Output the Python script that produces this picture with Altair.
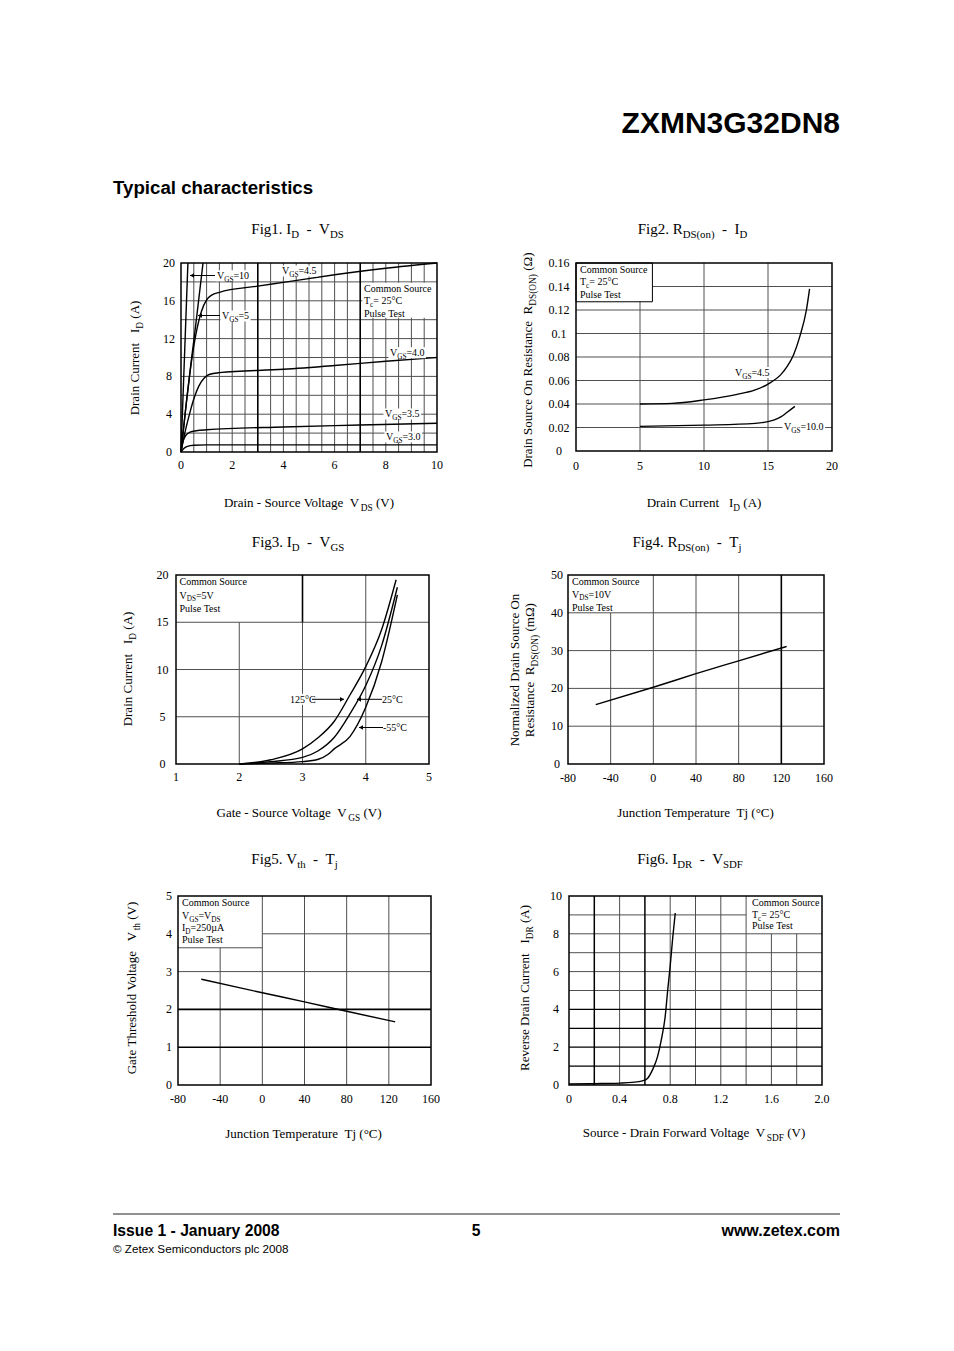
import altair as alt
import pandas as pd

# ===================== DATA =====================
# Fig1  I_D - V_DS
F1_X_TICKS = [0, 2, 4, 6, 8, 10]
F1_Y_TICKS = [0, 4, 8, 12, 16, 20]
F1_VGS10_VDS = [0, 0.14, 0.27]
F1_VGS10_ID = [0, 10.4, 20]
F1_VGS5_VDS = [0, 0.2, 0.4, 0.6, 0.86]
F1_VGS5_ID = [0, 5.0, 9.6, 14.0, 20]
F1_VGS45_VDS = [0, 0.2, 0.4, 0.6, 0.8, 1.0, 1.2, 1.5, 3, 4, 6, 8, 10]
F1_VGS45_ID = [0, 5.0, 9.4, 12.7, 14.9, 16.1, 16.6, 16.9, 17.55, 17.95, 18.75, 19.45, 20]
F1_VGS40_VDS = [0, 0.1, 0.2, 0.35, 0.5, 0.7, 0.9, 1.1, 1.5, 4, 6, 8, 10]
F1_VGS40_ID = [0, 1.4, 2.6, 4.2, 5.6, 7.0, 7.8, 8.2, 8.4, 8.75, 9.15, 9.6, 10.0]
F1_VGS35_VDS = [0, 0.05, 0.1, 0.2, 0.35, 0.6, 1, 4, 7, 10]
F1_VGS35_ID = [0, 0.8, 1.3, 1.8, 2.1, 2.25, 2.35, 2.65, 2.85, 3.05]
F1_VGS30_VDS = [0, 0.1, 0.25, 0.5, 1, 10]
F1_VGS30_ID = [0, 0.35, 0.6, 0.72, 0.75, 0.75]

# Fig2  R_DS(on) - I_D
F2_X_TICKS = [0, 5, 10, 15, 20]
F2_Y_TICKS = [0, 0.02, 0.04, 0.06, 0.08, 0.1, 0.12, 0.14, 0.16]
F2_Y_LABELS = ["0", "0.02", "0.04", "0.06", "0.08", "0.1", "0.12", "0.14", "0.16"]
F2_VGS45_ID = [5, 7.5, 10, 12.5, 14, 15, 16, 16.5, 17, 17.5, 18, 18.25]
F2_VGS45_R = [0.040, 0.0405, 0.0435, 0.048, 0.052, 0.057, 0.065, 0.072, 0.082, 0.098, 0.12, 0.138]
F2_VGS10_ID = [5, 10, 14, 15, 15.5, 16, 16.5, 17.1]
F2_VGS10_R = [0.021, 0.022, 0.0235, 0.025, 0.0265, 0.029, 0.033, 0.038]

# Fig3  I_D - V_GS
F3_X_TICKS = [1, 2, 3, 4, 5]
F3_Y_TICKS = [0, 5, 10, 15, 20]
F3_T125_VGS = [2.0, 2.5, 3.0, 3.25, 3.5, 3.75, 4.0, 4.25, 4.48]
F3_T125_ID = [0, 0.45, 1.6, 2.8, 4.5, 7.3, 10.3, 14.2, 19.5]
F3_T25_VGS = [2.0, 2.5, 3.0, 3.25, 3.5, 3.75, 4.0, 4.25, 4.5]
F3_T25_ID = [0, 0.25, 0.7, 1.4, 2.8, 5.3, 8.3, 12.5, 18.7]
F3_TM55_VGS = [2.0, 2.5, 3.0, 3.25, 3.4, 3.5, 3.75, 4.0, 4.25, 4.5]
F3_TM55_ID = [0, 0.1, 0.25, 0.5, 1.0, 1.6, 2.9, 6.0, 10.8, 17.9]

# Fig4  R_DS(on) - Tj
F4_X_TICKS = [-80, -40, 0, 40, 80, 120, 160]
F4_Y_TICKS = [0, 10, 20, 30, 40, 50]
F4_TJ = [-54, 0, 40, 80, 125]
F4_RDS = [15.7, 20.3, 23.9, 27.3, 31.1]

# Fig5  V_th - Tj
F5_X_TICKS = [-80, -40, 0, 40, 80, 120, 160]
F5_Y_TICKS = [0, 1, 2, 3, 4, 5]
F5_TJ = [-58, 0, 40, 80, 126]
F5_VTH = [2.80, 2.44, 2.20, 1.95, 1.67]

# Fig6  I_DR - V_SDF
F6_X_TICKS = [0, 0.4, 0.8, 1.2, 1.6, 2.0]
F6_X_LABELS = ["0", "0.4", "0.8", "1.2", "1.6", "2.0"]
F6_Y_TICKS = [0, 2, 4, 6, 8, 10]
F6_VSD = [0, 0.2, 0.4, 0.5, 0.58, 0.62, 0.66, 0.70, 0.73, 0.76, 0.78, 0.80, 0.82, 0.84]
F6_IDR = [0.05, 0.07, 0.10, 0.14, 0.22, 0.35, 0.8, 1.5, 2.4, 3.6, 5.0, 6.3, 7.8, 9.1]

# ===================== LAYOUT / STYLE =====================
OFF = 8  # page margin
SERIF = "Liberation Serif"
SANS = "Liberation Sans"
GRID = "#505050"

G1 = dict(L=181, R=437, T=263, B=452, xdom=[0, 10], ydom=[0, 20])
G2 = dict(L=576, R=832, T=263, B=451, xdom=[0, 20], ydom=[0, 0.16])
G3 = dict(L=176, R=429, T=575, B=764, xdom=[1, 5], ydom=[0, 20])
G4 = dict(L=568, R=824, T=575, B=764, xdom=[-80, 160], ydom=[0, 50])
G5 = dict(L=178, R=431, T=896, B=1085, xdom=[-80, 160], ydom=[0, 5])
G6 = dict(L=569, R=822, T=896, B=1085, xdom=[0, 2], ydom=[0, 10])


def scales(g):
    xs = alt.Scale(domain=g["xdom"], range=[g["L"] - OFF, g["R"] - OFF], nice=False, zero=False)
    ys = alt.Scale(domain=g["ydom"], range=[g["B"] - OFF, g["T"] - OFF], nice=False, zero=False)
    return xs, ys


def vrules(g, rows, color=GRID, width=1.0):
    xs, ys = scales(g)
    df = pd.DataFrame(rows, columns=["x", "y0", "y1"])
    return alt.Chart(df).mark_rule(color=color, strokeWidth=width).encode(
        x=alt.X("x:Q", scale=xs, axis=None),
        y=alt.Y("y0:Q", scale=ys, axis=None),
        y2="y1:Q")


def hrules(g, rows, color=GRID, width=1.0):
    xs, ys = scales(g)
    df = pd.DataFrame(rows, columns=["y", "x0", "x1"])
    return alt.Chart(df).mark_rule(color=color, strokeWidth=width).encode(
        y=alt.Y("y:Q", scale=ys, axis=None),
        x=alt.X("x0:Q", scale=xs, axis=None),
        x2="x1:Q")


def boxes(g, rows, border=False):
    xs, ys = scales(g)
    df = pd.DataFrame(rows, columns=["x0", "x1", "y0", "y1"])
    kw = dict(fill="white")
    if border:
        kw.update(stroke="black", strokeWidth=1.0)
    return alt.Chart(df).mark_rect(**kw).encode(
        x=alt.X("x0:Q", scale=xs, axis=None), x2="x1:Q",
        y=alt.Y("y0:Q", scale=ys, axis=None), y2="y1:Q")


def curves(g, series):
    xs, ys = scales(g)
    rows = []
    for name, (xv, yv) in series.items():
        for i, (a, b) in enumerate(zip(xv, yv)):
            rows.append(dict(s=name, i=i, x=a, y=b))
    df = pd.DataFrame(rows)
    return alt.Chart(df).mark_line(color="black", strokeWidth=1.4, interpolate="monotone").encode(
        x=alt.X("x:Q", scale=xs, axis=None),
        y=alt.Y("y:Q", scale=ys, axis=None),
        detail="s:N", order="i:Q")


def frame(g):
    xs, ys = scales(g)
    df = pd.DataFrame([dict(x0=g["xdom"][0], x1=g["xdom"][1], y0=g["ydom"][0], y1=g["ydom"][1])])
    return alt.Chart(df).mark_rect(filled=False, stroke="black", strokeWidth=1.5).encode(
        x=alt.X("x0:Q", scale=xs, axis=None), x2="x1:Q",
        y=alt.Y("y0:Q", scale=ys, axis=None), y2="y1:Q")


def xlabels(g, vals, labels, dy):
    xs, ys = scales(g)
    df = pd.DataFrame({"v": vals, "lab": labels})
    return alt.Chart(df).mark_text(font=SERIF, fontSize=12, align="center", baseline="middle", color="black").encode(
        x=alt.X("v:Q", scale=xs, axis=None), y=alt.value(g["B"] + dy - OFF), text="lab:N")


def ylabels(g, vals, labels, cx):
    xs, ys = scales(g)
    df = pd.DataFrame({"v": vals, "lab": labels})
    return alt.Chart(df).mark_text(font=SERIF, fontSize=12, align="center", baseline="middle", color="black").encode(
        y=alt.Y("v:Q", scale=ys, axis=None), x=alt.value(cx - OFF), text="lab:N")


# ---------- rich (subscripted) annotation text ----------
NB = "\u00a0"
TW = {' ': 250, NB: 250, '(': 333, ')': 333, '-': 333, '.': 250, '=': 564, '°': 400, 'µ': 500, 'Ω': 768}
for d in "0123456789":
    TW[d] = 500
TW.update(dict(A=722, B=667, C=667, D=722, E=611, F=556, G=722, H=722, I=333, J=389, K=722, L=611,
               M=889, N=722, O=722, P=556, Q=722, R=667, S=556, T=611, U=722, V=722, W=944, X=722,
               Y=722, Z=611, a=444, b=500, c=444, d=500, e=444, f=333, g=500, h=500, i=278, j=278,
               k=500, l=278, m=778, n=500, o=500, p=500, q=500, r=333, s=389, t=278, u=500, v=500,
               w=722, x=500, y=500, z=444))


def tw(s, size):
    return sum(TW.get(c, 500) for c in s) / 1000.0 * size


TEXT = []
BG = []


def rich(pieces, x, yc, size=10.0, anchor="left", rot=False, bg=False):
    sub = size * 0.72
    ws = [tw(t, size if k == "n" else sub) for t, k in pieces]
    total = sum(ws)
    start = {"left": 0.0, "center": -total / 2.0, "right": -total}[anchor]
    cur = (x + start) if not rot else (yc - start)
    for (t, k), w in zip(pieces, ws):
        s = size if k == "n" else sub
        lead = len(t) - len(t.lstrip(" "))
        core = t.strip(" ").replace(" ", NB)
        off = tw(" " * lead, s)
        shift = 0.27 * size if k == "s" else 0
        if not rot:
            TEXT.append(dict(px=cur + off - OFF, py=yc + 0.33 * size + shift - OFF,
                             text=core, size=s, angle=0))
            cur += w
        else:
            TEXT.append(dict(px=x + 0.33 * size + shift - OFF, py=cur - off - OFF,
                             text=core, size=s, angle=270))
            cur -= w
    if bg and not rot:
        BG.append(dict(x0=x + start - 1.5 - OFF, x1=x + start + total + 1.5 - OFF,
                       y0=yc - 5.5 - OFF, y1=yc + 5.5 - OFF))


def N(t):
    return (t, "n")


def S(t):
    return (t, "s")


# figure titles
TS = 15
rich([N("Fig1. I"), S("D"), N("  -  V"), S("DS")], 297.5, 229, TS, "center")
rich([N("Fig2. R"), S("DS(on)"), N("  -  I"), S("D")], 692.5, 229, TS, "center")
rich([N("Fig3. I"), S("D"), N("  -  V"), S("GS")], 298, 542, TS, "center")
rich([N("Fig4. R"), S("DS(on)"), N("  -  T"), S("j")], 687, 542, TS, "center")
rich([N("Fig5. V"), S("th"), N("  -  T"), S("j")], 294.5, 859, TS, "center")
rich([N("Fig6. I"), S("DR"), N("  -  V"), S("SDF")], 690, 859, TS, "center")

# axis titles
AS = 13
rich([N("Drain - Source Voltage  V"), S("DS"), N(" (V)")], 309, 503, AS, "center")
rich([N("Drain Current   I"), S("D"), N(" (A)")], 135, 358, AS, "center", rot=True)
rich([N("Drain Current   I"), S("D"), N(" (A)")], 704, 503, AS, "center")
rich([N("Drain Source On Resistance  R"), S("DS(ON)"), N(" (Ω)")], 528, 360, AS, "center", rot=True)
rich([N("Gate - Source Voltage  V"), S("GS"), N(" (V)")], 299, 813, AS, "center")
rich([N("Drain Current   I"), S("D"), N(" (A)")], 128, 669, AS, "center", rot=True)
rich([N("Junction Temperature  Tj (°C)")], 696, 813, AS, "center")
rich([N("Normalized Drain Source On")], 515, 670, AS, "center", rot=True)
rich([N("Resistance  R"), S("DS(ON)"), N(" (mΩ)")], 530, 670, AS, "center", rot=True)
rich([N("Junction Temperature  Tj (°C)")], 304, 1134, AS, "center")
rich([N("Gate Threshold Voltage   V"), S("th"), N(" (V)")], 132, 988, AS, "center", rot=True)
rich([N("Source - Drain Forward Voltage  V"), S("SDF"), N(" (V)")], 694, 1133, AS, "center")
rich([N("Reverse Drain Current   I"), S("DR"), N(" (A)")], 525, 988, AS, "center", rot=True)

# in-plot labels
LS = 10
rich([N("V"), S("GS"), N("=10")], 217, 275.7, LS, bg=True)
rich([N("V"), S("GS"), N("=5")], 222, 316, LS, bg=True)
rich([N("V"), S("GS"), N("=4.5")], 282, 271, LS, bg=True)
rich([N("V"), S("GS"), N("=4.0")], 390, 352.7, LS, bg=True)
rich([N("V"), S("GS"), N("=3.5")], 385, 414, LS, bg=True)
rich([N("V"), S("GS"), N("=3.0")], 386, 437, LS, bg=True)
rich([N("Common Source")], 364, 288.7, LS)
rich([N("T"), S("c"), N("= 25°C")], 364, 300.7, LS)
rich([N("Pulse Test")], 364, 313.3, LS)

rich([N("Common Source")], 580, 270, LS)
rich([N("T"), S("c"), N("= 25°C")], 580, 282, LS)
rich([N("Pulse Test")], 580, 295, LS)
rich([N("V"), S("GS"), N("=4.5")], 735, 372.5, LS, bg=True)
rich([N("V"), S("GS"), N("=10.0")], 784, 426.7, LS, bg=True)

rich([N("Common Source")], 179.5, 582, LS)
rich([N("V"), S("DS"), N("=5V")], 179.5, 595.3, LS)
rich([N("Pulse Test")], 179.5, 608.7, LS)
rich([N("125°C")], 290, 699.3, LS, bg=True)
rich([N("25°C")], 382, 699.3, LS, bg=True)
rich([N("-55°C")], 383, 727.5, LS, bg=True)

rich([N("Common Source")], 572, 582, LS)
rich([N("V"), S("DS"), N("=10V")], 572, 594.3, LS)
rich([N("Pulse Test")], 572, 607.7, LS)

rich([N("Common Source")], 182, 903, LS)
rich([N("V"), S("GS"), N("=V"), S("DS")], 182, 915.5, LS)
rich([N("I"), S("D"), N("=250µA")], 182, 927.5, LS)
rich([N("Pulse Test")], 182, 940, LS)

rich([N("Common Source")], 752, 902.5, LS)
rich([N("T"), S("c"), N("= 25°C")], 752, 914.5, LS)
rich([N("Pulse Test")], 752, 926, LS)

# arrows (page px): x_tail, x_head, y
ARROWS = [(215, 190, 275.5), (220, 198, 315.5), (312, 344, 699.3), (382, 357, 699.3), (383, 359, 727.5)]

# ===================== BUILD =====================
layers = []

# Fig1
layers += [
    vrules(G1, [(x / 2.0, 0, 20) for x in range(1, 20) if x not in (6, 14)]),
    hrules(G1, [(y, 0, 10) for y in range(2, 20, 2)]),
    vrules(G1, [(3, 0, 20), (7, 0, 20)], "black", 1.6),
    boxes(G1, [(7.08, 10, 14.2, 17.9)]),
    curves(G1, {"10": (F1_VGS10_VDS, F1_VGS10_ID), "5": (F1_VGS5_VDS, F1_VGS5_ID),
                "4.5": (F1_VGS45_VDS, F1_VGS45_ID), "4.0": (F1_VGS40_VDS, F1_VGS40_ID),
                "3.5": (F1_VGS35_VDS, F1_VGS35_ID), "3.0": (F1_VGS30_VDS, F1_VGS30_ID)}),
    frame(G1),
    xlabels(G1, F1_X_TICKS, [str(v) for v in F1_X_TICKS], 12.5),
    ylabels(G1, F1_Y_TICKS, [str(v) for v in F1_Y_TICKS], 169),
]
# Fig2
layers += [
    vrules(G2, [(5, 0, 0.16), (10, 0, 0.16), (15, 0, 0.16)]),
    hrules(G2, [(v, 0, 20) for v in [0.02, 0.04, 0.06, 0.08, 0.1, 0.12, 0.14]]),
    boxes(G2, [(0, 5.97, 0.127, 0.16)], border=True),
    curves(G2, {"4.5": (F2_VGS45_ID, F2_VGS45_R), "10": (F2_VGS10_ID, F2_VGS10_R)}),
    frame(G2),
    xlabels(G2, F2_X_TICKS, [str(v) for v in F2_X_TICKS], 14.5),
    ylabels(G2, F2_Y_TICKS, F2_Y_LABELS, 559),
]
# Fig3
layers += [
    vrules(G3, [(2, 0, 15), (3, 0, 20), (4, 0, 20)]),
    hrules(G3, [(5, 1, 5), (10, 1, 5), (15, 1, 5)]),
    vrules(G3, [(3, 15, 20)], "black", 1.6),
    curves(G3, {"125": (F3_T125_VGS, F3_T125_ID), "25": (F3_T25_VGS, F3_T25_ID),
                "-55": (F3_TM55_VGS, F3_TM55_ID)}),
    frame(G3),
    xlabels(G3, F3_X_TICKS, [str(v) for v in F3_X_TICKS], 13),
    ylabels(G3, F3_Y_TICKS, [str(v) for v in F3_Y_TICKS], 162.5),
]
# Fig4
layers += [
    vrules(G4, [(-40, 0, 40), (0, 0, 50), (40, 0, 50), (80, 0, 50)]),
    hrules(G4, [(10, -80, 160), (20, -80, 160), (30, -80, 160), (40, -80, 160)]),
    vrules(G4, [(120, 0, 50)], "black", 1.6),
    curves(G4, {"r": (F4_TJ, F4_RDS)}),
    frame(G4),
    xlabels(G4, F4_X_TICKS, [str(v) for v in F4_X_TICKS], 13.7),
    ylabels(G4, F4_Y_TICKS, [str(v) for v in F4_Y_TICKS], 557),
]
# Fig5
layers += [
    vrules(G5, [(-40, 0, 3.63), (0, 0, 5), (40, 0, 5), (80, 0, 5), (120, 0, 5)]),
    hrules(G5, [(3, -80, 160), (4, 0, 160), (3.63, -80, 0)]),
    hrules(G5, [(1, -80, 160), (2, -80, 160)], "black", 1.6),
    curves(G5, {"v": (F5_TJ, F5_VTH)}),
    frame(G5),
    xlabels(G5, F5_X_TICKS, [str(v) for v in F5_X_TICKS], 13.7),
    ylabels(G5, F5_Y_TICKS, [str(v) for v in F5_Y_TICKS], 169),
]
# Fig6
layers += [
    vrules(G6, [(0.4, 0, 10), (0.8, 0, 10), (1.0, 0, 10), (1.2, 0, 10), (1.4, 0, 10),
                (1.6, 0, 8), (1.8, 0, 8)]),
    hrules(G6, [(5, 0, 2), (6, 0, 2), (7, 0, 2), (8, 0, 2), (9, 0, 1.4)]),
    vrules(G6, [(0.2, 0, 10), (0.6, 0, 10)], "black", 1.5),
    hrules(G6, [(1, 0, 2), (2, 0, 2), (3, 0, 2), (4, 0, 2)], "black", 1.3),
    curves(G6, {"d": (F6_VSD, F6_IDR)}),
    frame(G6),
    xlabels(G6, F6_X_TICKS, F6_X_LABELS, 13.7),
    ylabels(G6, F6_Y_TICKS, [str(v) for v in F6_Y_TICKS], 556),
]

# label backgrounds
bg_df = pd.DataFrame(BG)
layers.append(alt.Chart(bg_df).mark_rect(fill="white").encode(
    x=alt.X("x0:Q", scale=None), x2="x1:Q", y=alt.Y("y0:Q", scale=None), y2="y1:Q"))

# arrows
arr_df = pd.DataFrame([dict(xt=a - OFF, xh=b - OFF, y=c - OFF) for a, b, c in ARROWS])
layers.append(alt.Chart(arr_df).mark_rule(color="black", strokeWidth=1).encode(
    x=alt.X("xt:Q", scale=None), x2="xh:Q", y=alt.Y("y:Q", scale=None)))
left_df = pd.DataFrame([dict(x=b + 2 - OFF, y=c - OFF) for a, b, c in ARROWS if b < a])
right_df = pd.DataFrame([dict(x=b - 2 - OFF, y=c - OFF) for a, b, c in ARROWS if b > a])
layers.append(alt.Chart(left_df).mark_point(shape="triangle-left", filled=True, color="black", size=22, opacity=1).encode(
    x=alt.X("x:Q", scale=None), y=alt.Y("y:Q", scale=None)))
layers.append(alt.Chart(right_df).mark_point(shape="triangle-right", filled=True, color="black", size=22, opacity=1).encode(
    x=alt.X("x:Q", scale=None), y=alt.Y("y:Q", scale=None)))

# serif annotation text
txt_df = pd.DataFrame(TEXT)
layers.append(alt.Chart(txt_df).mark_text(font=SERIF, align="left", baseline="alphabetic", color="black").encode(
    x=alt.X("px:Q", scale=None), y=alt.Y("py:Q", scale=None), text="text:N",
    size=alt.Size("size:Q", scale=None, legend=None), angle=alt.Angle("angle:Q", scale=None)))

# page header / footer
HDR_TITLE = "ZXMN3G32DN8"
HDR_SUB = "Typical characteristics"
FTR_LEFT = "Issue 1 - January 2008"
FTR_PAGE = "5"
FTR_RIGHT = "www.zetex.com"
FTR_COPY = "© Zetex Semiconductors plc 2008"


def page_text(text, x, y, size, align, weight):
    df = pd.DataFrame([dict(px=x - OFF, py=y - OFF, t=text)])
    return alt.Chart(df).mark_text(font=SANS, fontSize=size, fontWeight=weight, align=align,
                                   baseline="alphabetic", color="black").encode(
        x=alt.X("px:Q", scale=None), y=alt.Y("py:Q", scale=None), text="t:N")


layers += [
    page_text(HDR_TITLE, 840, 133, 30, "right", "bold"),
    page_text(HDR_SUB, 113, 194, 18.7, "left", "bold"),
    page_text(FTR_LEFT, 113, 1236, 15.7, "left", "bold"),
    page_text(FTR_PAGE, 476, 1236, 15.7, "center", "bold"),
    page_text(FTR_RIGHT, 840, 1236, 16, "right", "bold"),
    page_text(FTR_COPY, 113, 1253, 11.7, "left", "normal"),
]
rule_df = pd.DataFrame([dict(x0=113 - OFF, x1=840 - OFF, y=1214 - OFF)])
layers.append(alt.Chart(rule_df).mark_rule(color="#222222", strokeWidth=1).encode(
    x=alt.X("x0:Q", scale=None), x2="x1:Q", y=alt.Y("y:Q", scale=None)))

chart = alt.layer(*layers).resolve_scale(x="independent", y="independent").properties(
    width=938, height=1335, autosize=alt.AutoSizeParams(type="none"), padding=0,
    background="white"
).configure_view(stroke="transparent", strokeWidth=0)

chart.save("out.html", embed_options={"renderer": "svg", "actions": False})
